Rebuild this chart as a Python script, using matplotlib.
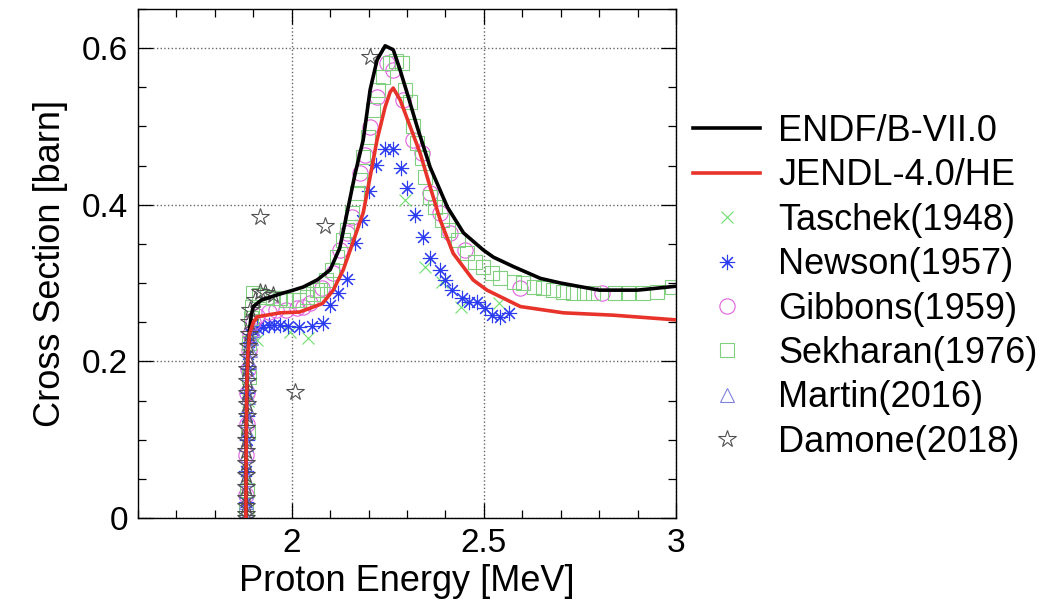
import numpy as np
import matplotlib
matplotlib.use('Agg')
import matplotlib.pyplot as plt
from matplotlib.ticker import MultipleLocator, FuncFormatter

plt.rcParams['font.family'] = ['Liberation Sans', 'DejaVu Sans']

# evaluovane knihovny
endf_E = [1.8806, 1.8815, 1.883, 1.886, 1.89, 1.895, 1.90, 1.92, 1.962, 2.004, 2.03, 2.066,
          2.10, 2.125, 2.144, 2.165, 2.186, 2.204, 2.222, 2.243, 2.264, 2.28, 2.30, 2.326,
          2.36, 2.405, 2.447, 2.499, 2.525, 2.577, 2.647, 2.70, 2.80, 2.90, 3.0]
endf_s = [0.0, 0.10, 0.17, 0.21, 0.24, 0.26, 0.27, 0.278, 0.285, 0.291, 0.295, 0.304,
          0.317, 0.345, 0.39, 0.44, 0.483, 0.547, 0.585, 0.603, 0.598, 0.575, 0.543, 0.50,
          0.448, 0.397, 0.364, 0.342, 0.333, 0.321, 0.306, 0.300, 0.291, 0.291, 0.296]

jendl_E = [1.8806, 1.8815, 1.883, 1.886, 1.89, 1.90, 1.91, 1.97, 2.02, 2.048, 2.08, 2.108,
           2.134, 2.152, 2.186, 2.204, 2.222, 2.243, 2.256, 2.264, 2.282, 2.308, 2.334,
           2.36, 2.386, 2.42, 2.472, 2.508, 2.595, 2.707, 2.837, 3.0]
jendl_s = [0.0, 0.10, 0.17, 0.21, 0.235, 0.25, 0.257, 0.262, 0.263, 0.268, 0.274, 0.291,
           0.317, 0.342, 0.39, 0.436, 0.483, 0.525, 0.544, 0.549, 0.534, 0.50, 0.466,
           0.423, 0.381, 0.338, 0.304, 0.291, 0.270, 0.262, 0.259, 0.253]

# experimentalni data
taschek_E = [1.883, 1.886, 1.91, 1.996, 2.043, 2.295, 2.347, 2.39, 2.44, 2.54]
taschek_s = [0.05, 0.15, 0.227, 0.238, 0.23, 0.406, 0.320, 0.302, 0.27, 0.274]

newson_E = [1.8815, 1.882, 1.8825, 1.883, 1.884, 1.885, 1.887, 1.89, 1.895, 1.90, 1.91,
            1.926, 1.94, 1.955, 1.97, 1.99, 2.02, 2.052, 2.08, 2.10, 2.12, 2.143, 2.165,
            2.183, 2.20, 2.22, 2.243, 2.263, 2.283, 2.30, 2.32, 2.342, 2.36, 2.385, 2.40,
            2.418, 2.443, 2.46, 2.482, 2.504, 2.521, 2.542, 2.564]
newson_s = [0.02, 0.06, 0.10, 0.13, 0.16, 0.19, 0.21, 0.225, 0.235, 0.24, 0.243,
            0.244, 0.246, 0.246, 0.246, 0.245, 0.244, 0.245, 0.249, 0.272, 0.287, 0.305, 0.351,
            0.381, 0.417, 0.451, 0.471, 0.471, 0.447, 0.421, 0.387, 0.359, 0.332, 0.317, 0.304,
            0.291, 0.281, 0.276, 0.276, 0.268, 0.259, 0.257, 0.262]

gibbons_E = [1.8812, 1.882, 1.883, 1.884, 1.886, 1.888, 1.892, 1.90, 1.91, 1.94, 1.96,
             1.986, 2.014, 2.03, 2.048, 2.079, 2.108, 2.126, 2.144, 2.157, 2.178, 2.19,
             2.204, 2.222, 2.248, 2.264, 2.29, 2.316, 2.339, 2.36, 2.386, 2.412, 2.45,
             2.595, 2.808]
gibbons_s = [0.03, 0.08, 0.12, 0.16, 0.19, 0.215, 0.235, 0.25, 0.258, 0.263, 0.265,
             0.266, 0.268, 0.27, 0.275, 0.294, 0.313, 0.342, 0.364, 0.384, 0.441, 0.464,
             0.499, 0.538, 0.581, 0.572, 0.534, 0.483, 0.466, 0.415, 0.389, 0.364, 0.342,
             0.294, 0.287]

sekharan_E = [1.8805, 1.8807, 1.883, 1.886, 1.888, 1.89, 1.895, 1.897, 1.90, 1.915, 1.935,
              1.95, 1.97, 1.985, 2.004, 2.02, 2.04, 2.055, 2.066, 2.074, 2.09, 2.104, 2.118,
              2.134, 2.144, 2.157, 2.17, 2.178, 2.186, 2.199, 2.212, 2.225, 2.238, 2.256,
              2.27, 2.287, 2.295, 2.308, 2.316, 2.326, 2.34, 2.347, 2.36, 2.373, 2.39, 2.407,
              2.433, 2.456, 2.477, 2.497, 2.52, 2.542, 2.577, 2.603, 2.63, 2.655, 2.68, 2.707,
              2.733, 2.76, 2.785, 2.842, 2.876, 2.915, 2.95, 2.99]
sekharan_s = [0.0, 0.01, 0.036, 0.11, 0.18, 0.224, 0.255, 0.27, 0.287, 0.285, 0.282,
              0.281, 0.281, 0.279, 0.278, 0.279, 0.282, 0.286, 0.291, 0.291, 0.304, 0.317, 0.333,
              0.355, 0.368, 0.39, 0.415, 0.432, 0.461, 0.487, 0.521, 0.547, 0.563, 0.581,
              0.583, 0.581, 0.547, 0.531, 0.50, 0.479, 0.46, 0.436, 0.41, 0.397, 0.381, 0.368,
              0.355, 0.338, 0.327, 0.321, 0.313, 0.306, 0.301, 0.30, 0.295, 0.294, 0.291, 0.289,
              0.287, 0.287, 0.287, 0.287, 0.287, 0.287, 0.289, 0.295]

martin_E = [1.8805, 1.8806, 1.8807, 1.8808, 1.881, 1.8813, 1.8817, 1.8822, 1.8828, 1.8835,
            1.8843, 1.8852, 1.8862, 1.8874, 1.889, 1.891, 1.895, 1.90]
martin_s = [0.0, 0.01, 0.02, 0.035, 0.05, 0.065, 0.08, 0.095, 0.11, 0.125,
            0.14, 0.155, 0.17, 0.185, 0.2, 0.215, 0.23, 0.24]

damone_E = [1.8804, 1.8805, 1.8806, 1.8807, 1.8808, 1.881, 1.8812, 1.8815, 1.8818, 1.882,
            1.8824, 1.8828, 1.8833, 1.8838, 1.8843, 1.885, 1.886, 1.888, 1.89, 1.892,
            1.905, 1.918, 1.93, 1.95, 1.918, 2.009, 2.087, 2.204]
damone_s = [0.0, 0.005, 0.015, 0.025, 0.04, 0.055, 0.07, 0.085, 0.1, 0.115,
            0.13, 0.145, 0.16, 0.175, 0.19, 0.205, 0.22, 0.235, 0.25, 0.265,
            0.278, 0.288, 0.287, 0.285, 0.385, 0.161, 0.373, 0.589]

fig = plt.figure(figsize=(10.61, 6.05), dpi=100)
ax = fig.add_axes([0.1301, 0.1438, 0.5071, 0.8413])

mk = dict(linestyle='none', fillstyle='none', markeredgewidth=0.8)
ax.plot(taschek_E, taschek_s, marker='x', color='#6fe06f', markersize=8, label='Taschek(1948)', **mk)
ax.plot(newson_E, newson_s, marker=(8, 2, 0), color='#2b3cf0', markersize=11, label='Newson(1957)', **mk)
ax.plot(gibbons_E, gibbons_s, marker='o', color='#e060e0', markersize=11, label='Gibbons(1959)', **mk)
ax.plot(sekharan_E, sekharan_s, marker='s', color='#80d080', markersize=10, label='Sekharan(1976)', **mk)
ax.plot(martin_E, martin_s, marker='^', color='#8080e0', markersize=10, label='Martin(2016)', **mk)
ax.plot(damone_E, damone_s, marker='*', color='#505050', markersize=13, label='Damone(2018)', **mk)

ax.plot(endf_E, endf_s, color='black', linewidth=2.6, label='ENDF/B-VII.0', zorder=5)
ax.plot(jendl_E, jendl_s, color='#e8332a', linewidth=2.6, label='JENDL-4.0/HE', zorder=5)

ax.set_xlim(1.6, 3.0)
ax.set_ylim(0, 0.65)
ax.xaxis.set_major_locator(MultipleLocator(0.5))
ax.xaxis.set_minor_locator(MultipleLocator(0.1))
ax.yaxis.set_major_locator(MultipleLocator(0.2))
ax.yaxis.set_minor_locator(MultipleLocator(0.05))
ax.xaxis.set_major_formatter(FuncFormatter(lambda v, p: '%g' % v))
ax.yaxis.set_major_formatter(FuncFormatter(lambda v, p: '%g' % v))
ax.tick_params(which='both', direction='in', top=True, right=True, labelsize=24, pad=7)
ax.tick_params(which='major', length=10.5, width=0.9)
ax.tick_params(which='minor', length=5.5, width=0.9)
for s in ax.spines.values():
    s.set_linewidth(1.0)
ax.grid(True, which='major', linestyle=':', color='#666666', linewidth=1.0)

ax.set_xlabel('Proton Energy [MeV]', fontsize=26, labelpad=4)
ax.set_ylabel('Cross Section [barn]', fontsize=26, labelpad=10)

# legenda
h, l = ax.get_legend_handles_labels()
order = [6, 7, 0, 1, 2, 3, 4, 5]
fig.legend([h[i] for i in order], [l[i] for i in order], loc='upper left',
           bbox_to_anchor=(693 / 1061, 1 - 114 / 605), frameon=False, fontsize=26,
           handlelength=1.86, handletextpad=0.5, labelspacing=0.26, borderpad=0,
           borderaxespad=0)

fig.savefig('out.png', dpi=100)
